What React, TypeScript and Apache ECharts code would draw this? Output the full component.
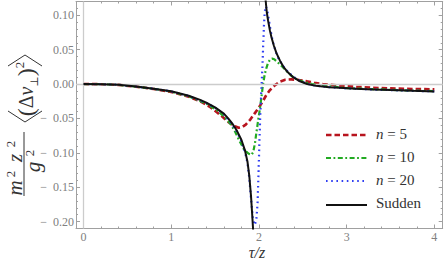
import React, { useEffect, useRef } from "react";
import * as echarts from "echarts";

// ---------- data ----------
const xMajorTicks = [0, 1, 2, 3, 4];
const yMajorTicks = [-0.2, -0.15, -0.1, -0.05, 0, 0.05, 0.1];

const seriesNames = ["n = 5", "n = 10", "n = 20", "Sudden"];

const suddenLeft: [number, number][] = [
  [0, 0], [0.2, -0.0002], [0.4, -0.001], [0.6, -0.0035], [0.8, -0.0068], [1.0, -0.0105],
  [1.2, -0.017], [1.33, -0.023], [1.4, -0.027], [1.5, -0.034], [1.6, -0.043], [1.65, -0.05],
  [1.7, -0.058], [1.75, -0.068], [1.8, -0.081], [1.84, -0.096], [1.87, -0.113], [1.89, -0.133],
  [1.91, -0.163], [1.925, -0.193], [1.94, -0.225],
];
const suddenRight: [number, number][] = [
  [2.07, 0.135], [2.078, 0.12], [2.09, 0.104], [2.105, 0.092], [2.125, 0.078], [2.143, 0.068],
  [2.17, 0.056], [2.2, 0.045], [2.24, 0.034], [2.28, 0.025], [2.33, 0.017], [2.39, 0.01],
  [2.46, 0.0045], [2.55, 0.0], [2.65, -0.0025], [2.8, -0.0045], [2.92, -0.0055], [3.1, -0.0068],
  [3.3, -0.0079], [3.5, -0.0088], [3.75, -0.0098], [4.0, -0.0107],
];
const n5: [number, number][] = [
  [0, 0], [0.2, -0.0002], [0.4, -0.0012], [0.6, -0.0038], [0.8, -0.0073], [1.0, -0.0115],
  [1.2, -0.0185], [1.33, -0.025], [1.45, -0.034], [1.57, -0.046], [1.65, -0.055], [1.72, -0.061],
  [1.77, -0.0635], [1.81, -0.0625], [1.85, -0.059], [1.9, -0.052], [1.95, -0.043], [2.0, -0.034],
  [2.04, -0.026], [2.08, -0.017], [2.124, -0.009], [2.18, -0.002], [2.24, 0.0035], [2.3, 0.0062],
  [2.37, 0.0068], [2.45, 0.006], [2.54, 0.0042], [2.63, 0.0018], [2.73, 0.0], [2.9, -0.0022],
  [3.11, -0.004], [3.3, -0.0053], [3.49, -0.0063], [3.75, -0.0071], [4.0, -0.0077],
];
const n10: [number, number][] = [
  [0, 0], [0.2, -0.0002], [0.4, -0.0011], [0.6, -0.0037], [0.8, -0.007], [1.0, -0.011],
  [1.2, -0.0178], [1.4, -0.0285], [1.52, -0.038], [1.6, -0.047], [1.67, -0.057], [1.72, -0.067],
  [1.78, -0.083], [1.83, -0.095], [1.88, -0.101], [1.915, -0.103], [1.935, -0.099], [1.955, -0.086],
  [1.97, -0.072], [1.99, -0.054], [2.01, -0.037], [2.03, -0.018], [2.045, -0.002], [2.067, 0.0145],
  [2.087, 0.024], [2.105, 0.031], [2.125, 0.035], [2.15, 0.037], [2.175, 0.036], [2.21, 0.032],
  [2.257, 0.0265], [2.314, 0.019], [2.37, 0.012], [2.43, 0.007], [2.5, 0.0035], [2.6, 0.0002],
  [2.75, -0.0025], [3.0, -0.0058], [3.3, -0.0074], [3.6, -0.009], [4.0, -0.0103],
];
const n20: [number, number][] = [
  [0, 0], [0.2, -0.0002], [0.4, -0.001], [0.6, -0.0036], [0.8, -0.0069], [1.0, -0.0107],
  [1.2, -0.0173], [1.4, -0.0275], [1.5, -0.0345], [1.6, -0.0437], [1.7, -0.0595], [1.75, -0.0695],
  [1.8, -0.083], [1.84, -0.098], [1.87, -0.115], [1.89, -0.136], [1.91, -0.166], [1.93, -0.194],
  [1.95, -0.205], [1.97, -0.199], [1.985, -0.172], [1.995, -0.132], [2.005, -0.087], [2.015, -0.047],
  [2.028, -0.008], [2.04, 0.025], [2.048, 0.054], [2.057, 0.084], [2.066, 0.104], [2.078, 0.113],
  [2.092, 0.109], [2.105, 0.1], [2.124, 0.085], [2.14, 0.073], [2.16, 0.061], [2.19, 0.048],
  [2.22, 0.038], [2.276, 0.026], [2.33, 0.018], [2.39, 0.0108], [2.46, 0.005], [2.55, 0.0003],
  [2.65, -0.0024], [2.8, -0.0045], [3.0, -0.0063], [3.3, -0.0079], [3.6, -0.0092], [4.0, -0.0107],
];

// ---------- styling ----------
const SERIF = "'Liberation Serif', 'DejaVu Serif', serif";
const FRAME = "#a0a0a0";
const TICKLABEL = "#808080";
const TXT = "#333333";
const RED = "#b8141e";
const GREEN = "#22aa22";
const BLUE = "#2f3ef2";
const BLACK = "#111111";

const X_MIN = -0.085;
const X_MAX = 4.095;
const Y_MIN = -0.21;
const Y_MAX = 0.12;

const xMinorTicks: number[] = [];
for (let i = 0; i <= 20; i++) if (i % 5 !== 0) xMinorTicks.push(i / 5);
const yMinorTicks: number[] = [];
for (let i = -21; i <= 12; i++) if (i % 5 !== 0) yMinorTicks.push(i / 100);

function fmtY(v: number): string {
  if (Math.abs(v) < 1e-9) return "0.00";
  return (v < 0 ? "\u2212\u2002" : "") + Math.abs(v).toFixed(2);
}

export default function App() {
  const ref = useRef<HTMLDivElement>(null);
  useEffect(() => {
    if (!ref.current) return;
    const chart = echarts.init(ref.current, undefined, { renderer: "svg" });

    const xBase = {
      type: "value",
      min: X_MIN,
      max: X_MAX,
      splitLine: { show: false },
      axisLine: { show: true, onZero: false, lineStyle: { color: FRAME, width: 1 } },
    };
    const yBase = {
      type: "value",
      min: Y_MIN,
      max: Y_MAX,
      splitLine: { show: false },
      axisLine: { show: true, onZero: false, lineStyle: { color: FRAME, width: 1 } },
    };
    const majTick = (vals: number[]) => ({
      show: true, inside: true, length: 4, customValues: vals, lineStyle: { color: FRAME, width: 1 },
    });
    const minTick = (vals: number[]) => ({
      show: true, inside: true, length: 2, customValues: vals, lineStyle: { color: FRAME, width: 1 },
    });

    const xAxis = [
      {
        ...xBase, position: "bottom",
        axisTick: majTick(xMajorTicks),
        axisLabel: {
          show: true, customValues: xMajorTicks, margin: 2, color: TICKLABEL,
          fontFamily: SERIF, fontSize: 12, formatter: (v: number) => String(v),
        },
      },
      { ...xBase, position: "bottom", axisLine: { show: false, onZero: false }, axisTick: minTick(xMinorTicks), axisLabel: { show: false } },
      { ...xBase, position: "top", axisTick: majTick(xMajorTicks), axisLabel: { show: false } },
      { ...xBase, position: "top", axisLine: { show: false, onZero: false }, axisTick: minTick(xMinorTicks), axisLabel: { show: false } },
    ];
    const yAxis = [
      {
        ...yBase, position: "left",
        axisTick: majTick(yMajorTicks),
        axisLabel: {
          show: true, customValues: yMajorTicks, margin: 2, color: TICKLABEL,
          fontFamily: SERIF, fontSize: 12, formatter: (v: number) => fmtY(v),
        },
      },
      { ...yBase, position: "left", axisLine: { show: false, onZero: false }, axisTick: minTick(yMinorTicks), axisLabel: { show: false } },
      { ...yBase, position: "right", axisTick: majTick(yMajorTicks), axisLabel: { show: false } },
      { ...yBase, position: "right", axisLine: { show: false, onZero: false }, axisTick: minTick(yMinorTicks), axisLabel: { show: false } },
    ];

    const lineSeries = (name: string, data: [number, number][], color: string, width: number, type: any, z: number) => ({
      name,
      type: "line",
      xAxisIndex: 0,
      yAxisIndex: 0,
      data,
      symbol: "none",
      showSymbol: false,
      clip: true,
      z,
      lineStyle: { color, width, type, cap: "butt" },
      itemStyle: { color },
    });

    const legendItems = [
      { label: "5", color: RED, width: 2.6, dash: [5.5, 3] },
      { label: "10", color: GREEN, width: 2.2, dash: [5, 2.5, 1.8, 2.5] },
      { label: "20", color: BLUE, width: 2.2, dash: [1.6, 3.6] },
      { label: "Sudden", color: BLACK, width: 2, dash: null as any },
    ];
    const legendLineY = [135, 158, 181, 205];
    const legendTextY = [134, 157, 180, 203];

    const graphics: any[] = [];
    legendItems.forEach((it, i) => {
      graphics.push({
        type: "line",
        shape: { x1: 326, y1: legendLineY[i], x2: 367, y2: legendLineY[i] },
        style: { stroke: it.color, lineWidth: it.width, lineDash: it.dash, lineCap: "butt" },
        silent: true,
      });
      graphics.push({
        type: "text",
        x: 376,
        y: legendTextY[i],
        style: {
          text: i < 3 ? "{i|n} = " + it.label : it.label,
          rich: { i: { fontStyle: "italic", fontFamily: SERIF, fontSize: 15, fill: TXT } },
          fontFamily: SERIF,
          fontSize: 15,
          fill: TXT,
          verticalAlign: "middle",
          align: "left",
        },
        silent: true,
      });
    });

    // x-axis title
    graphics.push({
      type: "text",
      x: 257,
      y: 252,
      style: {
        text: "τ/z",
        fontFamily: SERIF,
        fontStyle: "italic",
        fontSize: 16,
        fill: TXT,
        align: "center",
        verticalAlign: "middle",
      },
      silent: true,
    });

    // y-axis title (rotated group); local (u, v) -> screen (24 + v, 164 - u)
    const glyph = (t: string, u: number, v: number, size: number, italic: boolean) => ({
      type: "text",
      x: u,
      y: v,
      style: {
        text: t,
        fontFamily: SERIF,
        fontStyle: italic ? "italic" : "normal",
        fontSize: size,
        fill: TXT,
        align: "center",
        verticalAlign: "middle",
      },
    });
    graphics.push({
      type: "group",
      x: 24,
      y: 164,
      rotation: Math.PI / 2,
      silent: true,
      children: [
        glyph("m", -24, -9, 21, true),
        glyph("2", -10, -14, 13, false),
        glyph("z", 6, -9, 21, true),
        glyph("2", 20, -14, 13, false),
        { type: "line", shape: { x1: -32, y1: 0, x2: 32, y2: 0 }, style: { stroke: TXT, lineWidth: 1 } },
        glyph("g", -3, 9, 21, true),
        glyph("2", 11, 5, 13, false),
        { type: "polyline", shape: { points: [[53, -16], [42, 1], [53, 18]] }, style: { stroke: TXT, lineWidth: 1, fill: null } },
        {
          type: "text",
          x: 75,
          y: 2,
          style: {
            text: "{p|(}{d|Δ}{v|v}{s|⊥}{p|)}{e|2}",
            align: "center",
            verticalAlign: "middle",
            rich: {
              p: { fontFamily: SERIF, fontSize: 24, fill: TXT, lineHeight: 26 },
              d: { fontFamily: SERIF, fontSize: 20, fill: TXT, lineHeight: 26 },
              v: { fontFamily: SERIF, fontSize: 20, fontStyle: "italic", fill: TXT, lineHeight: 26 },
              s: { fontFamily: SERIF, fontSize: 11, fill: TXT, lineHeight: 14, verticalAlign: "bottom" },
              e: { fontFamily: SERIF, fontSize: 13, fill: TXT, lineHeight: 14, verticalAlign: "top" },
            },
          },
        },
        { type: "polyline", shape: { points: [[98, -16], [109, 1], [98, 18]] }, style: { stroke: TXT, lineWidth: 1, fill: null } },
      ],
    });

    chart.setOption({
      animation: false,
      backgroundColor: "#ffffff",
      grid: { left: 76, right: 2.3, top: 1.5, bottom: 32.5, containLabel: false, outerBoundsMode: "none" },
      xAxis,
      yAxis,
      series: [
        {
          type: "line",
          data: [[0, 0]],
          symbol: "none",
          lineStyle: { opacity: 0 },
          z: 1,
          silent: true,
          markLine: {
            silent: true,
            symbol: "none",
            label: { show: false },
            lineStyle: { color: "#cccccc", width: 1.3, type: "solid" },
            data: [{ yAxis: 0 }, { xAxis: 0 }],
          },
        },
        lineSeries(seriesNames[0], n5, RED, 2.6, [5.5, 3], 2),
        lineSeries(seriesNames[1], n10, GREEN, 2.2, [5, 2.5, 1.8, 2.5], 3),
        lineSeries(seriesNames[2], n20, BLUE, 2.2, [1.6, 3.6], 4),
        lineSeries(seriesNames[3], suddenLeft, BLACK, 2, "solid", 5),
        lineSeries(seriesNames[3] + " ", suddenRight, BLACK, 2, "solid", 5),
      ],
      graphic: graphics,
    });

    return () => chart.dispose();
  }, []);

  return (
    <div
      ref={ref}
      style={{ position: "fixed", left: 0, top: 0, width: 445, height: 261, background: "#fff" }}
    />
  );
}
